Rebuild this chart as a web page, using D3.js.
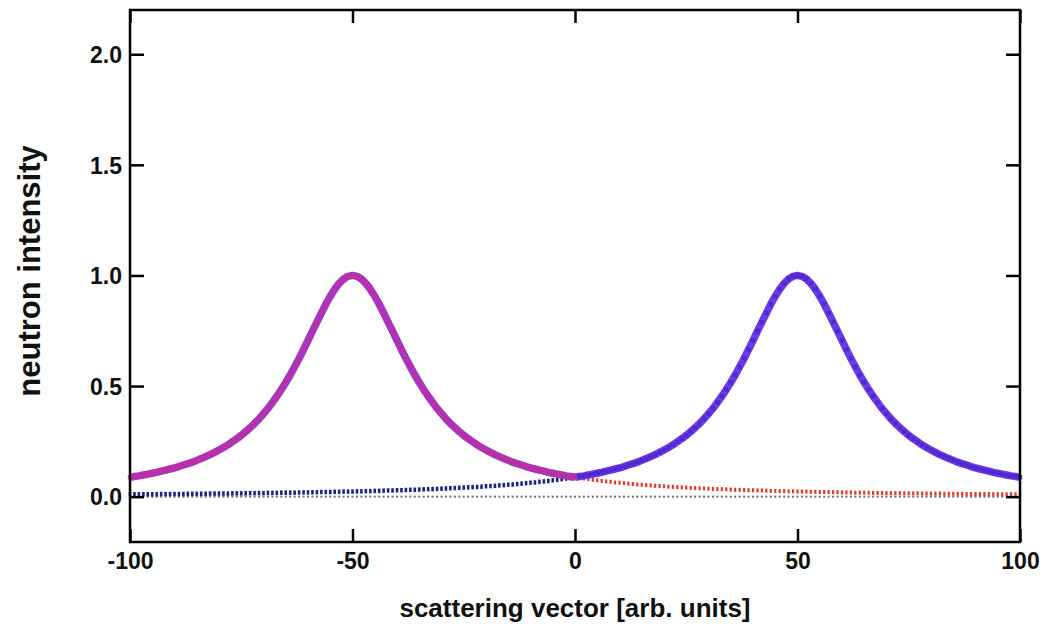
<!DOCTYPE html>
<html><head><meta charset="utf-8">
<script src="https://cdn.jsdelivr.net/npm/d3@7/dist/d3.min.js"></script>
<style>body{margin:0;background:#fff}svg{display:block}text{font-family:"Liberation Sans",Arial,Helvetica,sans-serif;font-weight:bold;fill:#111}</style>
</head><body>
<svg id="c" width="1045" height="630"></svg>
<script>
const xStart = -100, xStep = 1;
// red series (peak at -50), x = -100..100 step 1
const redValues = [
0.088,0.091,0.094,0.098,0.102,0.106,0.110,0.115,0.120,0.125,
0.130,0.136,0.143,0.149,0.156,0.164,0.172,0.181,0.190,0.200,
0.211,0.222,0.234,0.248,0.262,0.277,0.294,0.312,0.331,0.352,
0.375,0.399,0.426,0.454,0.484,0.516,0.550,0.587,0.625,0.665,
0.706,0.748,0.789,0.830,0.870,0.906,0.938,0.964,0.984,0.996,
1.000,
0.996,0.984,0.964,0.938,0.906,0.870,0.830,0.789,0.748,0.706,
0.665,0.625,0.587,0.550,0.516,0.484,0.454,0.426,0.399,0.375,
0.352,0.331,0.312,0.294,0.277,0.262,0.248,0.234,0.222,0.211,
0.200,0.190,0.181,0.172,0.164,0.156,0.149,0.143,0.136,0.130,
0.125,0.120,0.115,0.110,0.106,0.102,0.098,0.094,0.091,0.088,
0.084,0.082,0.079,0.076,0.074,0.071,0.069,0.067,0.064,0.063,
0.061,0.059,0.057,0.055,0.054,0.052,0.051,0.049,0.048,0.047,
0.045,0.044,0.043,0.042,0.041,0.040,0.039,0.038,0.037,0.036,
0.035,0.034,0.034,0.033,0.032,0.031,0.031,0.030,0.029,0.029,
0.028,0.028,0.027,0.026,0.026,0.025,0.025,0.024,0.024,0.023,
0.023,0.023,0.022,0.022,0.021,0.021,0.021,0.020,0.020,0.019,
0.019,0.019,0.018,0.018,0.018,0.018,0.017,0.017,0.017,0.016,
0.016,0.016,0.016,0.015,0.015,0.015,0.015,0.014,0.014,0.014,
0.014,0.014,0.013,0.013,0.013,0.013,0.013,0.012,0.012,0.012,
0.012,0.012,0.012,0.011,0.011,0.011,0.011,0.011,0.011,0.011
];
// blue series (peak at +50), x = -100..100 step 1
const blueValues = [
0.011,0.011,0.011,0.011,0.011,0.011,0.011,0.012,0.012,0.012,
0.012,0.012,0.012,0.013,0.013,0.013,0.013,0.013,0.014,0.014,
0.014,0.014,0.014,0.015,0.015,0.015,0.015,0.016,0.016,0.016,
0.016,0.017,0.017,0.017,0.018,0.018,0.018,0.018,0.019,0.019,
0.019,0.020,0.020,0.021,0.021,0.021,0.022,0.022,0.023,0.023,
0.023,0.024,0.024,0.025,0.025,0.026,0.026,0.027,0.028,0.028,
0.029,0.029,0.030,0.031,0.031,0.032,0.033,0.034,0.034,0.035,
0.036,0.037,0.038,0.039,0.040,0.041,0.042,0.043,0.044,0.045,
0.047,0.048,0.049,0.051,0.052,0.054,0.055,0.057,0.059,0.061,
0.063,0.064,0.067,0.069,0.071,0.074,0.076,0.079,0.082,0.084,
0.088,0.091,0.094,0.098,0.102,0.106,0.110,0.115,0.120,0.125,
0.130,0.136,0.143,0.149,0.156,0.164,0.172,0.181,0.190,0.200,
0.211,0.222,0.234,0.248,0.262,0.277,0.294,0.312,0.331,0.352,
0.375,0.399,0.426,0.454,0.484,0.516,0.550,0.587,0.625,0.665,
0.706,0.748,0.789,0.830,0.870,0.906,0.938,0.964,0.984,0.996,
1.000,
0.996,0.984,0.964,0.938,0.906,0.870,0.830,0.789,0.748,0.706,
0.665,0.625,0.587,0.550,0.516,0.484,0.454,0.426,0.399,0.375,
0.352,0.331,0.312,0.294,0.277,0.262,0.248,0.234,0.222,0.211,
0.200,0.190,0.181,0.172,0.164,0.156,0.149,0.143,0.136,0.130,
0.125,0.120,0.115,0.110,0.106,0.102,0.098,0.094,0.091,0.088
];
// baseline series (zero), x = -100..100 step 1
const baseValues = [
0,0,0,0,0,0,0,0,0,0,0,0,0,0,0,0,0,0,0,0,0,0,0,0,0,0,0,0,0,0,0,0,0,0,0,0,0,0,0,0,
0,0,0,0,0,0,0,0,0,0,0,0,0,0,0,0,0,0,0,0,0,0,0,0,0,0,0,0,0,0,0,0,0,0,0,0,0,0,0,0,
0,0,0,0,0,0,0,0,0,0,0,0,0,0,0,0,0,0,0,0,0,0,0,0,0,0,0,0,0,0,0,0,0,0,0,0,0,0,0,0,
0,0,0,0,0,0,0,0,0,0,0,0,0,0,0,0,0,0,0,0,0,0,0,0,0,0,0,0,0,0,0,0,0,0,0,0,0,0,0,0,
0,0,0,0,0,0,0,0,0,0,0,0,0,0,0,0,0,0,0,0,0,0,0,0,0,0,0,0,0,0,0,0,0,0,0,0,0,0,0,0,0
];
const xTicks = [-100, -50, 0, 50, 100];
const xTickLabels = ["-100", "-50", "0", "50", "100"];
const yTicks = [0, 0.5, 1.0, 1.5, 2.0];
const yTickLabels = ["0.0", "0.5", "1.0", "1.5", "2.0"];
const xTitle = "scattering vector [arb. units]";
const yTitle = "neutron intensity";

const svg = d3.select("#c");
const L = 130, R = 1020, T = 10, B = 542;
const x = d3.scaleLinear().domain([-100, 100]).range([L, R]);
const y = d3.scaleLinear().domain([-0.205, 2.2]).range([B, T]);

const toPts = arr => arr.map((v, i) => ({x: xStart + i * xStep, y: v}));
const red = toPts(redValues), blue = toPts(blueValues), base = toPts(baseValues);
const env = red.map((d, i) => (d.x <= 0 ? d : blue[i]));

const g = svg.append("g");
function dots(data, color, w, h) {
  g.append("g").selectAll("rect").data(data).join("rect")
    .attr("x", d => x(d.x) - w / 2).attr("y", d => y(d.y) - h / 2)
    .attr("width", w).attr("height", h).attr("fill", color);
}
dots(base, "#6f6f6f", 2, 2);
dots(red, "#e03a2e", 2.2, 4);
dots(blue, "#1a2680", 2.6, 4.5);

// thick envelope line
const line = d3.line().x(d => x(d.x)).y(d => y(d.y));
g.append("path").datum(env.filter(d => d.x <= 0)).attr("d", line)
  .attr("fill", "none").attr("stroke", "#a338c8").attr("stroke-width", 7.5).attr("stroke-linejoin", "round");
g.append("path").datum(env.filter(d => d.x >= 0)).attr("d", line)
  .attr("fill", "none").attr("stroke", "#6a3ce6").attr("stroke-width", 7.5).attr("stroke-linejoin", "round");
g.append("g").selectAll("rect").data(env).join("rect")
  .attr("x", d => x(d.x) - 2.2).attr("y", d => y(d.y) - 2.2)
  .attr("width", 4.4).attr("height", 4.4)
  .attr("fill", d => d.x <= 0 ? "#c52e8e" : "#4a22c4").attr("opacity", 0.75);

// frame
svg.append("rect").attr("x", L).attr("y", T).attr("width", R - L).attr("height", B - T)
  .attr("fill", "none").attr("stroke", "#000").attr("stroke-width", 2.5);

// axes
const yAxis = d3.axisLeft(y).tickValues(yTicks).tickFormat((d, i) => yTickLabels[i]).tickSize(-14).tickPadding(8);
const ya = svg.append("g").attr("transform", `translate(${L},0)`).call(yAxis);
const yr = svg.append("g").attr("transform", `translate(${R},0)`).call(d3.axisRight(y).tickValues(yTicks).tickSize(-14).tickFormat(""));
const xAxis = d3.axisBottom(x).tickValues(xTicks).tickFormat((d, i) => xTickLabels[i]).tickSize(-13).tickPadding(11);
const xa = svg.append("g").attr("transform", `translate(0,${B})`).call(xAxis);
const xt = svg.append("g").attr("transform", `translate(0,${T})`).call(d3.axisTop(x).tickValues(xTicks).tickSize(-13).tickFormat(""));
[ya, yr, xa, xt].forEach(a => {
  a.select(".domain").remove();
  a.selectAll("line").attr("stroke", "#000").attr("stroke-width", 2.5);
  a.selectAll("text").style("font-size", "23px").style("font-family", '"Liberation Sans",Arial,sans-serif').style("font-weight", "bold").attr("fill", "#111");
});
ya.selectAll("text").attr("dy", "0.36em");

svg.append("text").attr("x", (L + R) / 2).attr("y", 617).attr("text-anchor", "middle")
  .style("font-size", "26px").text(xTitle);
svg.append("text").attr("transform", `translate(40,271) rotate(-90)`).attr("text-anchor", "middle")
  .style("font-size", "31px").text(yTitle);
</script>
</body></html>
